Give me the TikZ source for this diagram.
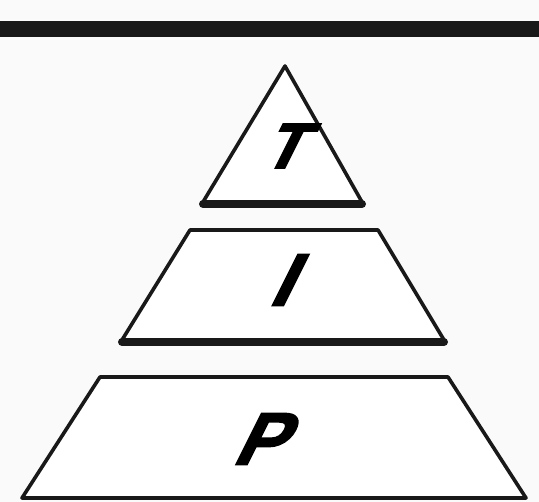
\documentclass[tikz,border=0pt]{standalone}
\usepackage{fontspec}
\usepackage{tikz}
\newfontfamily\tipfont[FakeSlant=0.5,FakeBold=2.5]{Liberation Sans Bold}

\begin{document}
\begin{tikzpicture}[x=1pt, y=-1pt,
    tier/.style={draw=black!90, line width=3.6pt, line join=round, fill=white},
    base/.style={line width=8pt, line cap=round, black!90},
    letter/.style={font=\tipfont\fontsize{74}{74}\selectfont, inner sep=0pt}
]
\useasboundingbox[fill=black!2] (0,0) rectangle (539,502);

\draw[line width=16pt, black!90] (0,29) -- (539,29);

\draw[tier] (285,66) -- (362,202) -- (203,202) -- cycle;
\draw[base] (203,204) -- (362,204);
\node[letter, font=\tipfont\fontsize{64}{64}\selectfont] (t) at (280,146) {T};

\draw[tier] (190,230) -- (378,230) -- (444,340) -- (122,340) -- cycle;
\draw[base] (122,342) -- (444,342);
\node[letter] (i) at (278,280) {I};

\draw[tier] (100,377) -- (448,377) -- (526,498) -- (22,498) -- cycle;
\node[letter] (p) at (256,439) {P};

\end{tikzpicture}
\end{document}
